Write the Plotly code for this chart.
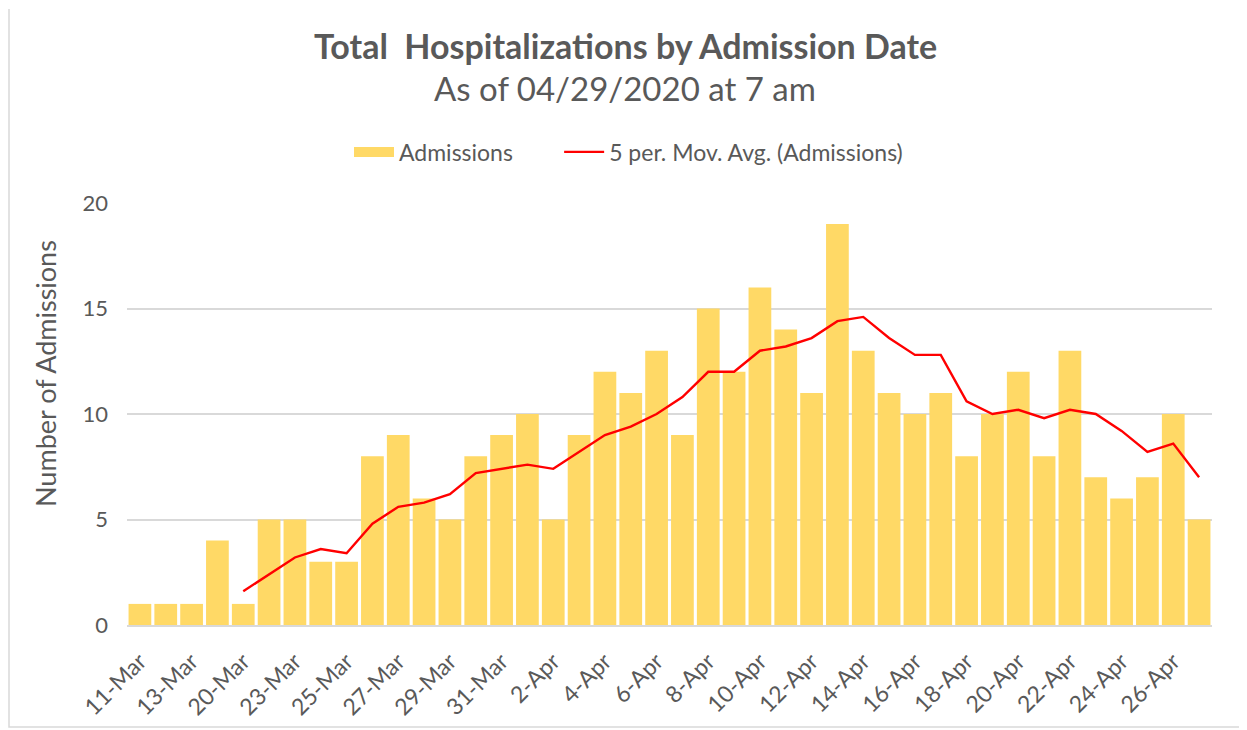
import plotly.graph_objects as go

# Admission dates (category axis; only every other one is labelled)
dates = [
    "11-Mar", "12-Mar", "13-Mar", "18-Mar", "20-Mar", "22-Mar", "23-Mar", "24-Mar",
    "25-Mar", "26-Mar", "27-Mar", "28-Mar", "29-Mar", "30-Mar", "31-Mar", "1-Apr",
    "2-Apr", "3-Apr", "4-Apr", "5-Apr", "6-Apr", "7-Apr", "8-Apr", "9-Apr",
    "10-Apr", "11-Apr", "12-Apr", "13-Apr", "14-Apr", "15-Apr", "16-Apr", "17-Apr",
    "18-Apr", "19-Apr", "20-Apr", "21-Apr", "22-Apr", "23-Apr", "24-Apr", "25-Apr",
    "26-Apr", "27-Apr",
]

admissions = [
    1, 1, 1, 4, 1, 5, 5, 3, 3, 8, 9, 6, 5, 8, 9, 10, 5, 9, 12, 11, 13,
    9, 15, 12, 16, 14, 11, 19, 13, 11, 10, 11, 8, 10, 12, 8, 13, 7, 6, 7, 10, 5,
]

# 5 period moving average (starts at 20-Mar)
mov_avg_dates = dates[4:]
mov_avg = [
    1.6, 2.4, 3.2, 3.6, 3.4, 4.8, 5.6, 5.8, 6.2, 7.2, 7.4, 7.6, 7.4, 8.2, 9.0,
    9.4, 10.0, 10.8, 12.0, 12.0, 13.0, 13.2, 13.6, 14.4, 14.6, 13.6, 12.8, 12.8,
    10.6, 10.0, 10.2, 9.8, 10.2, 10.0, 9.2, 8.2, 8.6, 7.0,
]

tick_labels = dates[0:41:2]
y_ticks = [0, 5, 10, 15, 20]

TEXT = "#595959"
BAR = "#FFD966"
FONT = "Lato, 'Open Sans', sans-serif"

fig = go.Figure()

fig.add_trace(go.Bar(
    x=dates, y=admissions, name="Admissions",
    marker=dict(color=BAR, line=dict(width=0)), showlegend=False,
))

# legend-only entry so the swatch is a wide block like the Excel one;
# trailing no-break spaces widen the gap before the next entry
fig.add_trace(go.Scatter(
    x=[None], y=[None], mode="lines", name="Admissions" + "\u00a0" * 7,
    line=dict(color=BAR, width=13),
))

fig.add_trace(go.Scatter(
    x=mov_avg_dates, y=mov_avg, mode="lines",
    name="5 per. Mov. Avg. (Admissions)",
    line=dict(color="#FF0000", width=2.4),
))

# the page body adds ~8px, so the margins are shifted to compensate
fig.update_layout(
    width=1247, height=730,
    paper_bgcolor="white", plot_bgcolor="white",
    font=dict(family=FONT, color=TEXT, size=18),
    margin=dict(l=119, r=43, t=195, b=113),
    bargap=0.12,
    showlegend=True,
    legend=dict(
        orientation="h", x=(349 - 127) / 1085, xanchor="left",
        y=1.121, yanchor="middle",
        font=dict(size=23, color=TEXT), itemwidth=40,
        traceorder="normal",
    ),
    xaxis=dict(
        type="category", categoryorder="array", categoryarray=dates,
        tickmode="array", tickvals=tick_labels, ticktext=tick_labels,
        tickangle=-45, tickfont=dict(size=23, color=TEXT),
        ticklabelstandoff=12,
        showgrid=False, showline=True, linecolor="#D9D9D9", linewidth=1.5,
        ticks="", range=[-0.5, len(dates) - 0.5],
    ),
    yaxis=dict(
        range=[0, 20], tickvals=y_ticks, showgrid=True,
        gridcolor="#D9D9D9", gridwidth=1.5, zeroline=False,
        tickfont=dict(size=22, color=TEXT), ticks="",
        ticklabelstandoff=18,
    ),
)

# axis title sits a little above the middle of the plot, as in Excel
fig.add_annotation(
    text="Number of Admissions", textangle=-90,
    xref="paper", yref="paper", x=(45 - 127) / 1085, y=(625 - 374) / 422,
    xanchor="center", yanchor="middle", showarrow=False,
    font=dict(size=27, color=TEXT, family=FONT),
)

fig.add_annotation(
    text="<b>Total  Hospitalizations by Admission Date</b>",
    xref="paper", yref="paper", x=(625 - 127) / 1085, y=1.374,
    xanchor="center", yanchor="middle",
    showarrow=False, font=dict(size=34, color=TEXT, family=FONT),
)
fig.add_annotation(
    text="As of 04/29/2020 at 7 am",
    xref="paper", yref="paper", x=(625 - 127) / 1085, y=1.2725,
    xanchor="center", yanchor="middle",
    showarrow=False, font=dict(size=33, color=TEXT, family=FONT),
)

# thin frame (left, bottom, right) around the chart area
x0, x1 = (9 - 127) / 1085, (1240 - 127) / 1085
y0, y1 = (625 - 727) / 422, (625 - 9) / 422
fig.add_shape(
    type="path", xref="paper", yref="paper",
    path=f"M {x0},{y1} L {x0},{y0} L {x1},{y0} L {x1},{y1}",
    line=dict(color="#D9D9D9", width=1.5), layer="below",
)

fig.write_html("out.html")
